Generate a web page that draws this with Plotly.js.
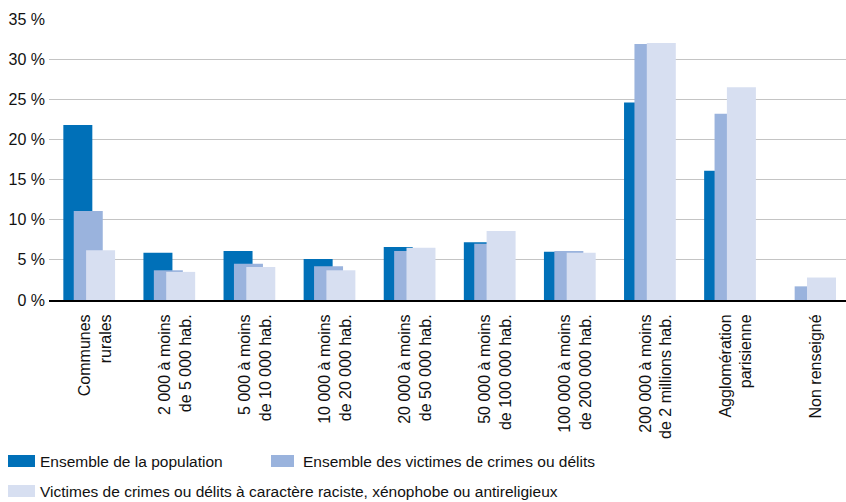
<!DOCTYPE html>
<html>
<head>
<meta charset="utf-8">
<script src="https://cdn.plot.ly/plotly-3.0.1.min.js"></script>
<style>
  html, body { margin: 0; padding: 0; background: #ffffff; }
  #chart { width: 846px; height: 502px; }
</style>
</head>
<body>
<div id="chart"></div>
<script>
// ---- Data ----
const categories = [
  "Communes<br>rurales",
  "2 000 à moins<br>de 5 000 hab.",
  "5 000 à moins<br>de 10 000 hab.",
  "10 000 à moins<br>de 20 000 hab.",
  "20 000 à moins<br>de 50 000 hab.",
  "50 000 à moins<br>de 100 000 hab.",
  "100 000 à moins<br>de 200 000 hab.",
  "200 000 à moins<br>de 2 millions hab.",
  "Agglomération<br>parisienne",
  "Non renseigné"
];
const seriesNames = [
  "Ensemble de la population",
  "Ensemble des victimes de crimes ou délits",
  "Victimes de crimes ou délits à caractère raciste, xénophobe ou antireligieux"
];
const population = [21.8, 5.9, 6.1, 5.1, 6.6, 7.2, 6.0, 24.6, 16.1, null];
const victimes   = [11.1, 3.7, 4.5, 4.2, 6.1, 7.0, 6.1, 31.9, 23.2, 1.7];
const racistes   = [6.2, 3.5, 4.1, 3.7, 6.5, 8.6, 5.9, 32.0, 26.5, 2.8];
const yTickVals  = [0, 5, 10, 15, 20, 25, 30, 35];
const yTickText  = ["0 %", "5 %", "10 %", "15 %", "20 %", "25 %", "30 %", "35 %"];

// ---- Styles ----
const colors = ["#0070b8", "#9ab3dd", "#d7dff1"];
const offsets = [-0.321, -0.191, -0.037];
const barWidth = 0.362;
const FONT = '"Liberation Sans", Arial, sans-serif';
const TXT = "#111111";

const values = [population, victimes, racistes];
const traces = values.map((v, i) => ({
  type: "bar",
  x: categories,
  y: v,
  name: seriesNames[i],
  marker: { color: colors[i], line: { width: 0 } },
  offset: offsets[i],
  width: barWidth,
  hoverinfo: "x+y+name",
  showlegend: false
}));

// custom legend (wide swatches like the original)
const legendRows = [
  { sx0: 8, sx1: 35, tx: 38, y0: 455, y1: 467 },
  { sx0: 271, sx1: 294, tx: 301, y0: 455, y1: 467 },
  { sx0: 8, sx1: 35, tx: 38, y0: 485, y1: 497 }
];
const L = 49, W = 797, T = 19, H = 281;
const px2x = p => (p - L) / W;
const py2y = p => (T + H - p) / H;

const shapes = legendRows.map((r, i) => ({
  type: "rect", xref: "paper", yref: "paper",
  x0: px2x(r.sx0), x1: px2x(r.sx1), y0: py2y(r.y1), y1: py2y(r.y0),
  fillcolor: colors[i], line: { width: 0 }
}));
const annotations = legendRows.map((r, i) => ({
  xref: "paper", yref: "paper",
  x: px2x(r.tx), y: py2y((r.y0 + r.y1) / 2),
  xanchor: "left", yanchor: "middle",
  text: seriesNames[i], showarrow: false,
  font: { family: FONT, size: 15.5, color: TXT }
}));

const layout = {
  width: 846, height: 502,
  margin: { l: L, r: 0, t: T, b: 502 - T - H },
  paper_bgcolor: "#ffffff", plot_bgcolor: "#ffffff",
  barmode: "overlay",
  showlegend: false,
  font: { family: FONT, size: 16, color: TXT },
  xaxis: {
    type: "category",
    range: [-0.5, 9.45],
    tickangle: -90,
    showgrid: false,
    showline: true, linecolor: "#000000", linewidth: 2,
    ticks: "",
    tickfont: { family: FONT, size: 16, color: TXT },
    ticklabelstandoff: 6,
    ticklabelshift: 6
  },
  yaxis: {
    range: [0, 35],
    tickvals: yTickVals, ticktext: yTickText,
    showgrid: true, gridcolor: "#c4c4c4", gridwidth: 1.2,
    zeroline: false, showline: false, ticks: "",
    tickfont: { family: FONT, size: 16, color: TXT },
    ticklabelstandoff: 3
  },
  shapes: shapes,
  annotations: annotations
};

Plotly.newPlot("chart", traces, layout, { displayModeBar: false, staticPlot: true });
</script>
</body>
</html>
